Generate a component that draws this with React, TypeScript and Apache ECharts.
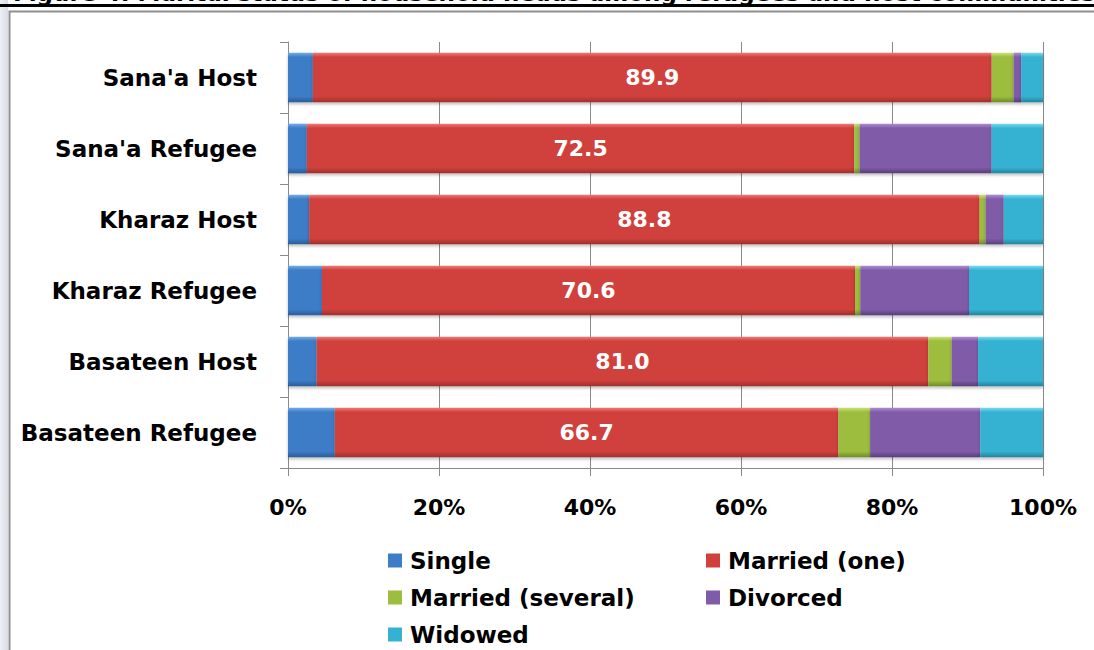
import React, { useEffect, useRef } from "react";
import * as echarts from "echarts";

const categories = [
  "Sana'a Host",
  "Sana'a Refugee",
  "Kharaz Host",
  "Kharaz Refugee",
  "Basateen Host",
  "Basateen Refugee",
];
const single = [3.3, 2.5, 2.8, 4.5, 3.8, 6.2];
const marriedOne = [89.9, 72.5, 88.8, 70.6, 81.0, 66.7];
const marriedSeveral = [2.9, 0.7, 0.8, 0.7, 3.1, 4.2];
const divorced = [1.0, 17.5, 2.4, 14.4, 3.5, 14.6];
const widowed = [2.9, 6.8, 5.2, 9.8, 8.6, 8.3];
const xTicks = ["0%", "20%", "40%", "60%", "80%", "100%"];
const seriesNames = ["Single", "Married (one)", "Married (several)", "Divorced", "Widowed"];
const titleText = "Figure 4: Marital status of household heads among refugees and host communities";

const FONT = "DejaVu Sans";

function grad(top: string, mid: string, bottom: string) {
  return new echarts.graphic.LinearGradient(0, 0, 0, 1, [
    { offset: 0, color: top },
    { offset: 0.09, color: mid },
    { offset: 0.88, color: mid },
    { offset: 1, color: bottom },
  ]);
}

export default function App() {
  const ref = useRef<HTMLDivElement>(null);
  useEffect(() => {
    if (!ref.current) return;
    const chart = echarts.init(ref.current, undefined, { renderer: "svg" });
    const colors = [
      grad("#74AEEA", "#3D7CC6", "#2A5C98"),
      grad("#F27A76", "#D0413D", "#9C2E2B"),
      grad("#CDE47A", "#9CBD3E", "#6E8A28"),
      grad("#AE90D6", "#805CA8", "#573D78"),
      grad("#7ADCF2", "#35B2D2", "#22839C"),
    ];
    const legendColors = ["#3D7CC6", "#D0413D", "#9CBD3E", "#805CA8", "#35B2D2"];
    const dataSets = [single, marriedOne, marriedSeveral, divorced, widowed];
    const series = seriesNames.map((name, i) => ({
      name,
      type: "bar",
      stack: "total",
      barWidth: "70%",
      data: dataSets[i],
      itemStyle: {
        color: colors[i],
        shadowColor: "rgba(0,0,0,0.25)",
        shadowBlur: 3,
        shadowOffsetY: 2,
      },
      label:
        i === 1
          ? {
              show: true,
              position: "inside",
              color: "#ffffff",
              fontFamily: FONT,
              fontWeight: "bold",
              fontSize: 22,
              formatter: (p: any) => Number(p.value).toFixed(1),
            }
          : { show: false },
      emphasis: { disabled: true },
    }));

    const legendPos = [
      { left: 388, top: 549 },
      { left: 706, top: 549 },
      { left: 388, top: 586 },
      { left: 706, top: 586 },
      { left: 388, top: 623 },
    ];
    const legend = seriesNames.map((name, i) => ({
      data: [{ name, itemStyle: { color: legendColors[i] } }],
      left: legendPos[i].left,
      top: legendPos[i].top,
      icon: "rect",
      itemWidth: 14,
      itemHeight: 14,
      padding: 0,
      selectedMode: false,
      textStyle: {
        fontFamily: FONT,
        fontWeight: "bold",
        fontSize: 23,
        color: "#000",
        padding: [0, 0, 0, 3],
      },
    }));

    chart.setOption({
      animation: false,
      backgroundColor: "#ffffff",
      grid: { left: 288, right: 51, top: 42, bottom: 182 },
      xAxis: {
        type: "value",
        min: 0,
        max: 100,
        interval: 20,
        axisLine: { show: true, lineStyle: { color: "#8a8a8a", width: 1 } },
        axisTick: { show: true, length: 8, lineStyle: { color: "#8a8a8a" } },
        splitLine: { show: true, lineStyle: { color: "#8a8a8a", width: 1 } },
        axisLabel: {
          fontFamily: FONT,
          fontWeight: "bold",
          fontSize: 22,
          color: "#000",
          margin: 28,
          formatter: (v: number) => xTicks[Math.round(v / 20)],
        },
      },
      yAxis: {
        type: "category",
        inverse: true,
        data: categories,
        axisLine: { show: true, lineStyle: { color: "#8a8a8a", width: 1 } },
        axisTick: { show: true, length: 8, lineStyle: { color: "#8a8a8a" } },
        axisLabel: {
          fontFamily: FONT,
          fontWeight: "bold",
          fontSize: 23,
          color: "#000",
          margin: 31,
        },
      },
      legend,
      series,
      graphic: [
        {
          type: "rect",
          shape: { x: 0, y: 0, width: 8, height: 650 },
          style: {
            fill: new echarts.graphic.LinearGradient(0, 0, 1, 0, [
              { offset: 0, color: "#eef0f5" },
              { offset: 1, color: "#d8dce6" },
            ]),
          },
          silent: true,
        },
        {
          type: "rect",
          shape: { x: 9.5, y: 11.5, width: 1200, height: 800 },
          style: { fill: "none", stroke: "#8f8f8f", lineWidth: 2 },
          silent: true,
        },
        {
          type: "text",
          x: 13,
          y: -7,
          style: {
            text: titleText,
            fontFamily: FONT,
            fontWeight: "bold",
            fontSize: 23,
            fill: "#000",
            verticalAlign: "middle",
          },
          silent: true,
        },
        {
          type: "rect",
          shape: { x: 0, y: 4, width: 1094, height: 3 },
          style: { fill: "#000" },
          silent: true,
        },
      ],
    });
    return () => chart.dispose();
  }, []);
  return (
    <div
      ref={ref}
      style={{ position: "fixed", left: 0, top: 0, width: 1094, height: 650 }}
    />
  );
}
